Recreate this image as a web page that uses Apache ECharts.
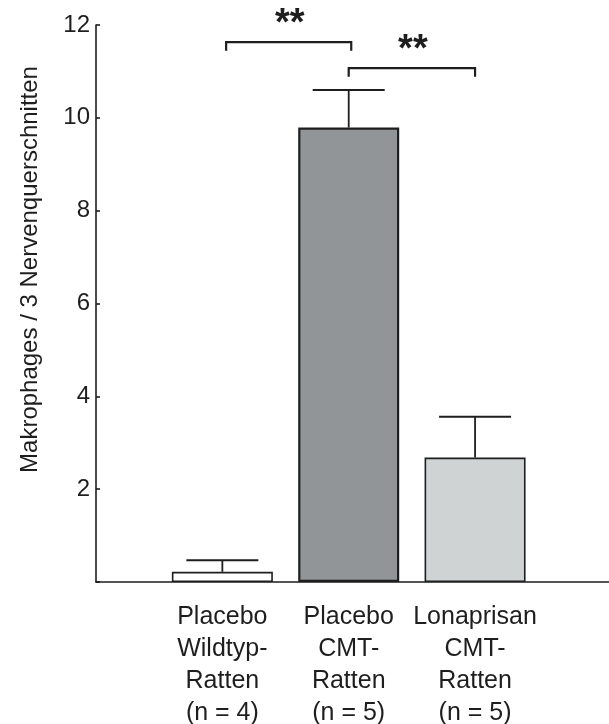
<!DOCTYPE html>
<html>
<head>
<meta charset="utf-8">
<script src="https://cdn.jsdelivr.net/npm/echarts@6/dist/echarts.min.js"></script>
<style>
  html, body { margin: 0; padding: 0; background: #fff; }
  #chart { width: 609px; height: 724px; }
</style>
</head>
<body>
<div id="chart"></div>
<script>
// Group labels (one line per entry)
const groupLabels = [
  ['Placebo', 'Wildtyp-', 'Ratten', '(n = 4)'],
  ['Placebo', 'CMT-', 'Ratten', '(n = 5)'],
  ['Lonaprisan', 'CMT-', 'Ratten', '(n = 5)']
];
// Mean macrophage counts and their error (upper whisker)
const means = [0.22, 9.79, 2.68];
const errors = [0.25, 0.81, 0.88];
const barColors = ['#ffffff', '#929598', '#d0d3d4'];

// Significance brackets: [from group, to group, height], and their markers
const bracketSpans = [[1.03, 2.02, 11.63], [2.0, 3.0, 11.07]];
const bracketMarks = ['**', '**'];

const yTicks = [0, 2, 4, 6, 8, 10, 12];
const yTitle = 'Makrophages / 3 Nervenquerschnitten';

const FONT = '"Liberation Sans", Arial, sans-serif';
const INK = '#1e1e1e';

const chart = echarts.init(document.getElementById('chart'), null, { renderer: 'canvas' });

const barData = means.map((v, i) => ({
  value: [i + 1, v],
  itemStyle: { color: barColors[i], borderColor: INK, borderWidth: i === 1 ? 2.2 : 1.6 }
}));
const errData = means.map((v, i) => [i + 1, v, v + errors[i]]);
const bracketData = bracketSpans.map((b, i) => [b[0], b[1], b[2], i]);

chart.setOption({
  animation: false,
  backgroundColor: '#ffffff',
  grid: { left: 96, right: 0, top: 25, bottom: 142, containLabel: false, outerBoundsMode: 'none' },
  xAxis: {
    type: 'value',
    min: 0,
    max: 4.06,
    interval: 1,
    splitLine: { show: false },
    axisTick: { show: false },
    axisLine: { show: true, lineStyle: { color: INK, width: 1.6 } },
    axisLabel: {
      show: true,
      showMaxLabel: false,
      margin: 19,
      fontFamily: FONT,
      fontSize: 25,
      lineHeight: 32,
      color: INK,
      align: 'center',
      verticalAlign: 'top',
      formatter: function (v) {
        const idx = Math.round(v) - 1;
        if (Math.abs(v - Math.round(v)) > 1e-6 || idx < 0 || idx >= groupLabels.length) return '';
        return groupLabels[idx].join('\n');
      }
    }
  },
  yAxis: {
    type: 'value',
    min: yTicks[0],
    max: yTicks[yTicks.length - 1],
    interval: 2,
    splitLine: { show: false },
    axisLine: { show: true, lineStyle: { color: INK, width: 1.6 } },
    axisTick: { show: true, inside: true, length: 4, lineStyle: { color: INK, width: 1.6 } },
    axisLabel: {
      margin: 6,
      fontFamily: FONT,
      fontSize: 24,
      color: INK,
      formatter: function (v) { return v === 0 ? '' : String(v); }
    }
  },
  graphic: [{
    type: 'text',
    x: 30,
    y: 269.5,
    rotation: Math.PI / 2,
    style: {
      text: yTitle,
      fontFamily: FONT,
      fontSize: 24,
      fill: INK,
      align: 'center',
      verticalAlign: 'middle'
    }
  }],
  series: [
    {
      type: 'bar',
      data: barData,
      barWidth: 101,
      z: 2
    },
    {
      // error whiskers with caps
      type: 'custom',
      z: 3,
      data: errData,
      renderItem: function (params, api) {
        const x = api.value(0);
        const base = api.coord([x, api.value(1)]);
        const top = api.coord([x, api.value(2)]);
        const half = 36;
        return {
          type: 'group',
          children: [
            { type: 'line', shape: { x1: base[0], y1: base[1], x2: top[0], y2: top[1] },
              style: { stroke: INK, lineWidth: 1.8 } },
            { type: 'line', shape: { x1: top[0] - half, y1: top[1], x2: top[0] + half, y2: top[1] },
              style: { stroke: INK, lineWidth: 2 } }
          ]
        };
      }
    },
    {
      // significance brackets
      type: 'custom',
      z: 4,
      data: bracketData,
      renderItem: function (params, api) {
        const a = api.coord([api.value(0), api.value(2)]);
        const b = api.coord([api.value(1), api.value(2)]);
        const leg = 8.5;
        const mark = bracketMarks[api.value(3)];
        return {
          type: 'group',
          children: [
            { type: 'polyline',
              shape: { points: [[a[0], a[1] + leg], [a[0], a[1]], [b[0], b[1]], [b[0], b[1] + leg]] },
              style: { stroke: INK, lineWidth: 2.2, fill: null } },
            { type: 'text',
              x: (a[0] + b[0]) / 2 + 1,
              y: a[1] + 1.5,
              style: { text: mark, fontFamily: FONT, fontWeight: 'bold', fontSize: 38,
                       fill: INK, align: 'center', verticalAlign: 'bottom' } }
          ]
        };
      }
    }
  ]
});
</script>
</body>
</html>
